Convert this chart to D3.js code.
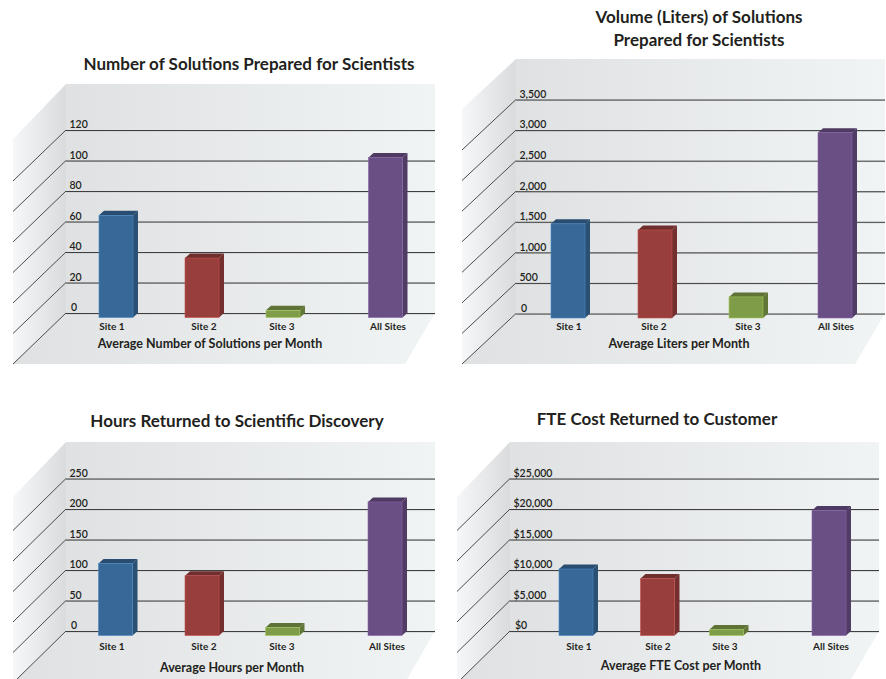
<!DOCTYPE html>
<html lang="en">
<head>
    <meta charset="UTF-8">
    <title>Solutions Prepared for Scientists</title>
    <script src="https://d3js.org/d3.v7.min.js"></script>
    <style>
        html, body { margin: 0; padding: 0; background: #fff; }
        svg { display: block; }
        text { font-family: Lato, "Open Sans", sans-serif; fill: #231f20; }
    </style>
</head>
<body>
    <svg id="chart" width="886" height="679"></svg>

    <script>
        const categories = ['Site 1', 'Site 2', 'Site 3', 'All Sites'];
        const barColors = ['#376898', '#983e3c', '#7f9c48', '#6a4f85'];

        // values
        const solutionsValues = [67, 39, 4.7, 105];
        const litersValues = [1540, 1440, 345, 3030];
        const hoursValues = [118, 98, 13, 219];
        const costValues = [10900, 9350, 1000, 20500];

        const solutionsTicks = [0, 20, 40, 60, 80, 100, 120];
        const litersTicks = [0, 500, 1000, 1500, 2000, 2500, 3000, 3500];
        const hoursTicks = [0, 50, 100, 150, 200, 250];
        const costTicks = [0, 5000, 10000, 15000, 20000, 25000];

        const svg = d3.select('#chart');
        const defs = svg.append('defs');

        // wall + floor shading
        function addGradient(id, stops) {
            const g = defs.append('linearGradient').attr('id', id);
            stops.forEach(s => g.append('stop').attr('offset', s[0]).attr('stop-color', s[1]));
        }
        addGradient('wallGrad', [['0%', '#dfe1e2'], ['100%', '#f1f4f5']]);
        addGradient('sideGrad', [['0%', '#f5f7f8'], ['100%', '#d9dbdc']]);

        const depthX = 5, depthY = 4.5;
        const barWidth = 34;

        const panels = [
            {
                title: ['Number of Solutions Prepared for Scientists'], titleX: 249, titleY: [70],
                axisTitle: 'Average Number of Solutions per Month', axisTitleX: 210, axisTitleY: 348,
                values: solutionsValues, ticks: solutionsTicks, format: d3.format('d'),
                left: 13, wallL: 66, wallR: 435, wallTop: 84, wallSideTop: 139, y0: 313, yMax: 130, front: 364, frontR: 405,
                barX: [99, 185, 266, 368.5], labelX: [112, 204, 282, 388], labelY: 330
            },
            {
                title: ['Volume (Liters) of Solutions', 'Prepared for Scientists'], titleX: 699, titleY: [23, 46],
                axisTitle: 'Average Liters per Month', axisTitleX: 679, axisTitleY: 348,
                values: litersValues, ticks: litersTicks, format: d3.format(','),
                left: 462, wallL: 516, wallR: 885, wallTop: 59, wallSideTop: 109, y0: 313.5, yMax: 99.5, front: 364, frontR: 855,
                barX: [551, 638, 729, 818], labelX: [569, 654, 748, 836], labelY: 330
            },
            {
                title: ['Hours Returned to Scientific Discovery'], titleX: 237, titleY: [427],
                axisTitle: 'Average Hours per Month', axisTitleX: 232, axisTitleY: 672,
                values: hoursValues, ticks: hoursTicks, format: d3.format('d'),
                left: 13, wallL: 66, wallR: 435, wallTop: 442, wallSideTop: 497, y0: 631, yMax: 478.5, front: 683, frontR: 405,
                barX: [98.5, 185, 265.5, 368], labelX: [112, 204, 282, 387], labelY: 650
            },
            {
                title: ['FTE Cost Returned to Customer'], titleX: 657, titleY: [425],
                axisTitle: 'Average FTE Cost per Month', axisTitleX: 681, axisTitleY: 670,
                values: costValues, ticks: costTicks, format: d3.format('$,'),
                left: 457, wallL: 510, wallR: 879, wallTop: 442, wallSideTop: 497, y0: 631, yMax: 478.5, front: 683, frontR: 849,
                barX: [559, 640.5, 709.5, 812], labelX: [579, 658, 725, 831], labelY: 650
            }
        ];

        panels.forEach(p => {
            const g = svg.append('g');
            const y = d3.scaleLinear()
                .domain([0, d3.max(p.ticks)])
                .range([p.y0, p.yMax]);
            const barPos = d3.scaleOrdinal().domain(categories).range(p.barX);
            const labelPos = d3.scaleOrdinal().domain(categories).range(p.labelX);
            const slant = p.wallL - p.left;

            // back wall, side wall, floor
            g.append('rect')
                .attr('x', p.wallL).attr('y', p.wallTop)
                .attr('width', p.wallR - p.wallL).attr('height', p.y0 - p.wallTop)
                .attr('fill', 'url(#wallGrad)');
            g.append('path')
                .attr('d', `M${p.left},${p.wallSideTop}L${p.wallL},${p.wallTop}V${p.y0}L${p.left},${p.front}Z`)
                .attr('fill', 'url(#sideGrad)');
            g.append('path')
                .attr('d', `M${p.wallL},${p.y0}H${p.wallR}L${p.frontR},${p.front}H${p.left}Z`)
                .attr('fill', 'url(#wallGrad)');

            // slanted part of the grid lines on the side wall
            g.selectAll('.slant')
                .data(p.ticks)
                .enter().append('line')
                .attr('class', 'slant')
                .attr('x1', p.left).attr('x2', p.wallL)
                .attr('y1', d => y(d) + (p.front - p.y0)).attr('y2', d => y(d))
                .attr('stroke', '#3a3a3a').attr('stroke-width', 0.9);

            // soft light line under each grid line
            g.selectAll('.gridShadow')
                .data(p.ticks)
                .enter().append('line')
                .attr('class', 'gridShadow')
                .attr('x1', p.wallL).attr('x2', p.wallR)
                .attr('y1', d => y(d) + 1).attr('y2', d => y(d) + 1)
                .attr('stroke', '#c4c6c7').attr('stroke-width', 1);

            // axis gives both grid lines and tick labels
            const axis = g.append('g')
                .attr('transform', `translate(${p.wallL},0)`)
                .call(d3.axisRight(y).tickValues(p.ticks).tickSize(p.wallR - p.wallL).tickFormat(p.format));
            axis.select('.domain').remove();
            axis.selectAll('line').attr('stroke', '#3f3f3f').attr('stroke-width', 1);
            axis.selectAll('text')
                .attr('x', d => d === 0 ? 5 : 3.5)
                .attr('dy', '-0.2em')
                .style('font-size', '10.5px')
                .style('font-weight', 600)
                .style('font-family', 'Lato, sans-serif')
                .attr('fill', '#333');

            // bars: side, top, then front
            const bars = g.selectAll('.bar')
                .data(categories.map((c, i) => ({ cat: c, value: p.values[i], color: barColors[i] })))
                .enter().append('g')
                .attr('class', 'bar');

            bars.append('path')
                .attr('d', d => {
                    const x = barPos(d.cat) + barWidth;
                    const top = y(d.value) + depthY, bot = y(0) + depthY;
                    return `M${x},${top}l${depthX},${-depthY}V${bot - depthY}L${x},${bot}Z`;
                })
                .attr('fill', d => d3.color(d.color).darker(0.75));
            bars.append('path')
                .attr('d', d => {
                    const x = barPos(d.cat), top = y(d.value) + depthY;
                    return `M${x},${top}l${depthX},${-depthY}h${barWidth}l${-depthX},${depthY}Z`;
                })
                .attr('fill', d => d3.color(d.color).darker(0.85));
            bars.append('rect')
                .attr('x', d => barPos(d.cat))
                .attr('y', d => y(d.value) + depthY)
                .attr('width', barWidth)
                .attr('height', d => y(0) - y(d.value))
                .attr('fill', d => d.color)
                .attr('stroke', d => d3.color(d.color).brighter(0.7))
                .attr('stroke-width', 0.6);

            // category labels
            g.selectAll('.catLabel')
                .data(categories)
                .enter().append('text')
                .attr('class', 'catLabel')
                .attr('x', d => labelPos(d))
                .attr('y', p.labelY)
                .attr('text-anchor', 'middle')
                .style('font-size', '10px')
                .style('font-weight', 700)
                .text(d => d);

            g.append('text')
                .attr('x', p.axisTitleX).attr('y', p.axisTitleY)
                .attr('text-anchor', 'middle')
                .style('font-size', '12.5px')
                .style('font-weight', 700)
                .text(p.axisTitle);

            p.title.forEach((t, i) => {
                g.append('text')
                    .attr('x', p.titleX).attr('y', p.titleY[i])
                    .attr('text-anchor', 'middle')
                    .style('font-size', '17px')
                    .style('font-weight', 700)
                    .text(t);
            });
        });
    </script>
</body>
</html>
